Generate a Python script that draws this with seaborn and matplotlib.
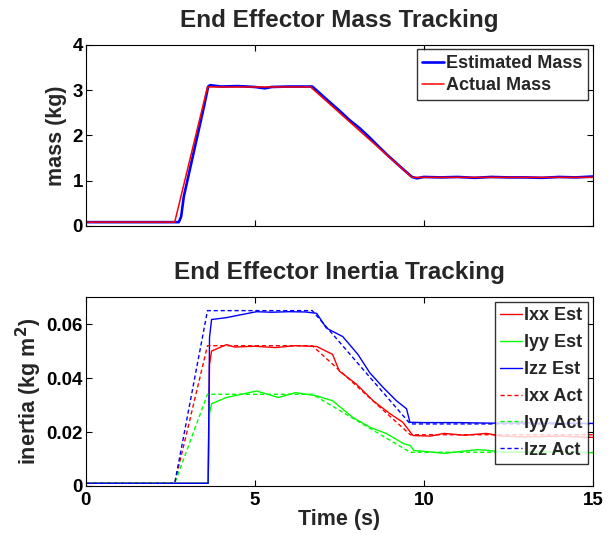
import matplotlib
matplotlib.use('Agg')
import matplotlib.pyplot as plt
import seaborn as sns

# mass tracking (kg)
mass_act_t = [0, 2.63, 3.6, 6.65, 9.65, 15]
mass_act = [0.08, 0.08, 3.07, 3.07, 1.07, 1.07]
mass_est_t = [0, 2.75, 2.82, 2.9, 3.2, 3.5, 3.62, 3.68, 4.0, 4.5, 5.0, 5.3, 5.5, 6.0, 6.5, 6.7,
              7.0, 7.3, 7.5, 7.8, 8.1, 8.4, 8.6, 8.9, 9.3, 9.65, 9.8, 10.0, 10.5, 11, 11.5, 12,
              12.5, 13, 13.5, 14, 14.5, 15]
mass_est = [0.08, 0.08, 0.2, 0.65, 1.65, 2.65, 3.08, 3.11, 3.08, 3.09, 3.07, 3.04, 3.07, 3.08, 3.08, 3.08,
            2.88, 2.68, 2.55, 2.34, 2.16, 1.95, 1.8, 1.58, 1.31, 1.08, 1.05, 1.08, 1.07, 1.08, 1.06, 1.08,
            1.07, 1.07, 1.06, 1.08, 1.07, 1.09]

# inertia tracking (kg m^2)
act_t = [0, 2.63, 3.6, 6.7, 9.6, 15]
ixx_act = [0.001, 0.001, 0.052, 0.052, 0.019, 0.019]
iyy_act = [0.001, 0.001, 0.034, 0.034, 0.0125, 0.0125]
izz_act = [0.001, 0.001, 0.065, 0.065, 0.023, 0.023]

izz_est_t = [0, 3.62, 3.66, 3.72, 4.16, 4.6, 5.05, 5.5, 6.0, 6.5, 6.83, 7.12, 7.6, 8.05, 8.4,
             8.8, 9.19, 9.49, 9.59, 10, 11, 12, 13, 14, 15]
izz_est = [0.001, 0.001, 0.055, 0.0617, 0.0624, 0.0635, 0.0646, 0.0644, 0.0646, 0.0645, 0.064, 0.0585,
           0.0554, 0.0488, 0.042, 0.0365, 0.0316, 0.0286, 0.0236, 0.0235, 0.0235, 0.0233, 0.0234, 0.0233, 0.0232]
ixx_est_t = [0, 3.62, 3.66, 3.72, 4.16, 4.4, 5.0, 5.6, 6.2, 6.83, 7.3, 7.5, 8.0, 8.5, 9.0, 9.38,
             9.68, 10.2, 10.6, 11.2, 11.85, 12.3, 13, 14, 15]
ixx_est = [0.001, 0.001, 0.045, 0.050, 0.0524, 0.0515, 0.0518, 0.0513, 0.052, 0.0517, 0.0488, 0.0426,
           0.0378, 0.0316, 0.0268, 0.0236, 0.0187, 0.0185, 0.0195, 0.0188, 0.0195, 0.0185, 0.0182, 0.0185, 0.018]
iyy_est_t = [0, 3.62, 3.66, 3.72, 4.16, 4.6, 5.05, 5.7, 6.2, 6.8, 7.3, 7.9, 8.4, 8.9, 9.4, 9.6,
             9.7, 10.6, 11.6, 12.5, 13.5, 14.5, 15]
iyy_est = [0.001, 0.001, 0.027, 0.0305, 0.0328, 0.034, 0.0352, 0.0328, 0.0346, 0.0335, 0.0316, 0.0254,
           0.0218, 0.0194, 0.0157, 0.015, 0.0132, 0.0121, 0.0135, 0.0125, 0.0128, 0.0125, 0.0123]

mass_ticks = [0, 1, 2, 3, 4]
inertia_ticks = [0, 0.02, 0.04, 0.06]
inertia_labels = ['0', '0.02', '0.04', '0.06']
time_ticks = [0, 5, 10, 15]

sns.set_style('ticks')
plt.rcParams['font.family'] = ['Liberation Sans', 'DejaVu Sans']
plt.rcParams['font.weight'] = 'bold'
plt.rcParams['xtick.direction'] = 'in'
plt.rcParams['ytick.direction'] = 'in'
plt.rcParams['xtick.top'] = True
plt.rcParams['ytick.right'] = True

fig = plt.figure(figsize=(6.13, 5.35), dpi=100)
ax1 = fig.add_axes([0.140, 0.578, 0.827, 0.338])
ax2 = fig.add_axes([0.140, 0.0916, 0.827, 0.353])

sns.lineplot(x=mass_est_t, y=mass_est, ax=ax1, color='#0000ff', lw=1.9, label='Estimated Mass')
sns.lineplot(x=mass_act_t, y=mass_act, ax=ax1, color='#ff0000', lw=1.1, label='Actual Mass')
ax1.set_xlim(0, 15)
ax1.set_ylim(0, 4)
ax1.set_xticks(time_ticks)
ax1.set_xticklabels([])
ax1.set_yticks(mass_ticks)
ax1.set_ylabel('mass (kg)', fontsize=15.5, fontweight='bold', labelpad=4)
ax1.set_title('End Effector Mass Tracking', fontsize=17.5, fontweight='bold', pad=13)
leg1 = ax1.legend(loc='upper right', fontsize=13, frameon=True, fancybox=False, edgecolor='black',
                  handlelength=1.2, handletextpad=0.15, borderpad=0.3, labelspacing=0.3, borderaxespad=0.25)
leg1.get_frame().set_linewidth(1.0)

dash = (3, 2)
sns.lineplot(x=ixx_est_t, y=ixx_est, ax=ax2, color='#ff0000', lw=1.0, label='Ixx Est')
sns.lineplot(x=iyy_est_t, y=iyy_est, ax=ax2, color='#00ff00', lw=1.0, label='Iyy Est')
sns.lineplot(x=izz_est_t, y=izz_est, ax=ax2, color='#0000ff', lw=1.0, label='Izz Est')
sns.lineplot(x=act_t, y=ixx_act, ax=ax2, color='#ff0000', lw=1.0, dashes=dash, label='Ixx Act')
sns.lineplot(x=act_t, y=iyy_act, ax=ax2, color='#00ff00', lw=1.0, dashes=dash, label='Iyy Act')
sns.lineplot(x=act_t, y=izz_act, ax=ax2, color='#0000ff', lw=1.0, dashes=dash, label='Izz Act')
ax2.set_xlim(0, 15)
ax2.set_ylim(0, 0.07)
ax2.set_xticks(time_ticks)
ax2.set_yticks(inertia_ticks)
ax2.set_yticklabels(inertia_labels)
ax2.set_xlabel('Time (s)', fontsize=15.5, fontweight='bold', labelpad=0)
ax2.set_ylabel('inertia (kg m$^\\mathbf{2}$)', fontsize=15.5, fontweight='bold', labelpad=2)
ax2.set_title('End Effector Inertia Tracking', fontsize=17.5, fontweight='bold', pad=13)
leg2 = ax2.legend(loc='upper right', fontsize=13, frameon=True, fancybox=False, edgecolor='black',
                  handlelength=1.2, handletextpad=0.15, borderpad=0.3, labelspacing=0.55, borderaxespad=0.25)
leg2.get_frame().set_linewidth(1.0)

for ax in (ax1, ax2):
    ax.tick_params(labelsize=13.5, length=4, width=0.8, colors='black', pad=2)
    ax.tick_params(axis='x', pad=4)
    for lbl in ax.get_xticklabels() + ax.get_yticklabels():
        lbl.set_fontweight('bold')
    for sp in ax.spines.values():
        sp.set_linewidth(0.8)
        sp.set_color('black')

fig.savefig('out.png', dpi=100)
